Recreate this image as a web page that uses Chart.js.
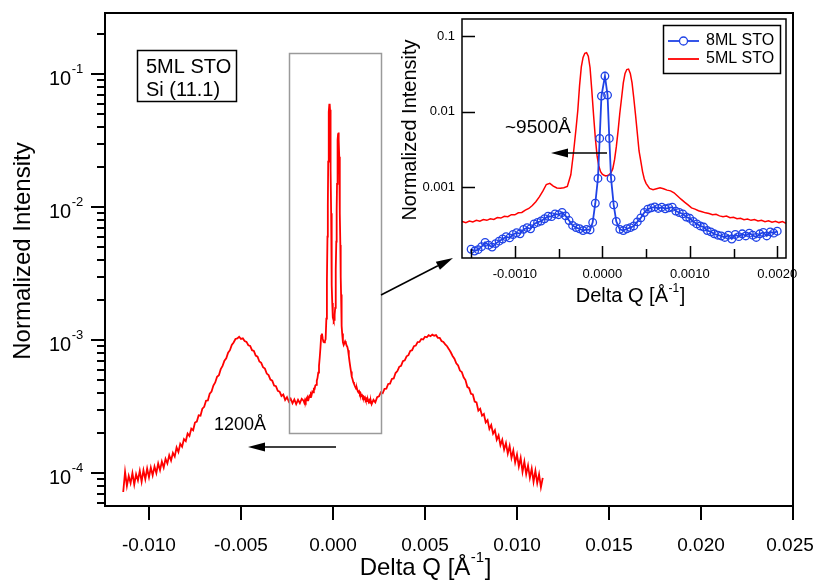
<!DOCTYPE html>
<html>
<head>
<meta charset="utf-8">
<script src="https://cdn.jsdelivr.net/npm/chart.js@4.4.1/dist/chart.umd.min.js"></script>
<style>
  html, body { margin: 0; padding: 0; background: #fff; }
  #wrap { position: relative; width: 815px; height: 580px; }
  #wrap canvas { position: absolute; left: 0; top: 0; }
</style>
</head>
<body>
<div id="wrap">
  <canvas id="main" width="815" height="580"></canvas>
  <canvas id="inset" width="815" height="580"></canvas>
</div>
<script>
// 5ML STO scan, Delta Q [1/A] and normalized intensity
const q5ML = [
  // left wing
  -0.0114, -0.0113, -0.0112, -0.0111, -0.0110, -0.0109, -0.0108, -0.0107, -0.0106, -0.0105,
  -0.0104, -0.0103, -0.0102, -0.0101, -0.0100, -0.0099, -0.0098, -0.0097, -0.0096, -0.0095,
  -0.0094, -0.0093, -0.0092, -0.0091, -0.0090, -0.0089, -0.0088, -0.0087, -0.0086, -0.0085,
  -0.0084, -0.0083, -0.0082, -0.0081, -0.0080, -0.0079, -0.0078, -0.0077, -0.0076, -0.0075,
  -0.0074, -0.0073, -0.0072, -0.0071, -0.0070, -0.0069, -0.0068, -0.0067, -0.0066, -0.0065,
  -0.0064, -0.0063, -0.0062, -0.0061, -0.0060, -0.0059, -0.0058, -0.0057, -0.0056, -0.0055,
  -0.0054, -0.0053, -0.0052, -0.0051, -0.0050, -0.0049, -0.0048, -0.0047, -0.0046, -0.0045,
  -0.0044, -0.0043, -0.0042, -0.0041, -0.0040, -0.0039, -0.0038, -0.0037, -0.0036, -0.0035,
  -0.0034, -0.0033, -0.0032, -0.0031, -0.0030, -0.0029, -0.0028, -0.0027, -0.0026, -0.0025,
  -0.0024, -0.0023, -0.0022, -0.0021, -0.0020, -0.0019, -0.0018, -0.0017,
  // centre (finer sampling)
  -0.00160, -0.00156, -0.00152, -0.00148, -0.00144, -0.00140, -0.00136, -0.00132, -0.00128, -0.00124,
  -0.00120, -0.00116, -0.00112, -0.00108, -0.00104, -0.00100, -0.00096, -0.00092, -0.00088, -0.00084,
  -0.00080, -0.00076, -0.00072, -0.00068, -0.00064, -0.00060, -0.00056, -0.00052, -0.00048, -0.00044,
  -0.00040, -0.00036, -0.00033, -0.00030, -0.00028, -0.00026, -0.00024, -0.00022, -0.00020, -0.00018,
  -0.00016, -0.00014, -0.00012, -0.00010, -0.00008, -0.00006, -0.00004, -0.00002, 0.00000, 0.00002,
  0.00004, 0.00006, 0.00008, 0.00010, 0.00012, 0.00014, 0.00016, 0.00018, 0.00020, 0.00022,
  0.00024, 0.00026, 0.00028, 0.00030, 0.00032, 0.00034, 0.00036, 0.00038, 0.00040, 0.00042,
  0.00044, 0.00046, 0.00048, 0.00050, 0.00054, 0.00058, 0.00062, 0.00066, 0.00070, 0.00074,
  0.00078, 0.00082, 0.00086, 0.00090, 0.00094, 0.00098, 0.00102, 0.00106, 0.00110, 0.00114,
  0.00118, 0.00122, 0.00126, 0.00130, 0.00134, 0.00138, 0.00142, 0.00146, 0.00150, 0.00154,
  0.00158, 0.00162, 0.00166, 0.00170, 0.00174, 0.00178, 0.00182, 0.00186, 0.00190, 0.00194,
  0.00198, 0.00202, 0.00206,
  // right wing
  0.0021, 0.0022, 0.0023, 0.0024, 0.0025, 0.0026, 0.0027, 0.0028, 0.0029, 0.0030,
  0.0031, 0.0032, 0.0033, 0.0034, 0.0035, 0.0036, 0.0037, 0.0038, 0.0039, 0.0040,
  0.0041, 0.0042, 0.0043, 0.0044, 0.0045, 0.0046, 0.0047, 0.0048, 0.0049, 0.0050,
  0.0051, 0.0052, 0.0053, 0.0054, 0.0055, 0.0056, 0.0057, 0.0058, 0.0059, 0.0060,
  0.0061, 0.0062, 0.0063, 0.0064, 0.0065, 0.0066, 0.0067, 0.0068, 0.0069, 0.0070,
  0.0071, 0.0072, 0.0073, 0.0074, 0.0075, 0.0076, 0.0077, 0.0078, 0.0079, 0.0080,
  0.0081, 0.0082, 0.0083, 0.0084, 0.0085, 0.0086, 0.0087, 0.0088, 0.0089, 0.0090,
  0.0091, 0.0092, 0.0093, 0.0094, 0.0095, 0.0096, 0.0097, 0.0098, 0.0099, 0.0100,
  0.0101, 0.0102, 0.0103, 0.0104, 0.0105, 0.0106, 0.0107, 0.0108, 0.0109, 0.0110,
  0.0111, 0.0112, 0.0113, 0.0114,
];
const i5ML = [
  0.72e-4, 1.02e-4, 0.80e-4, 0.95e-4, 0.84e-4, 1.00e-4, 0.82e-4, 0.98e-4, 0.88e-4, 1.04e-4,
  0.86e-4, 1.05e-4, 0.90e-4, 1.08e-4, 0.93e-4, 1.10e-4, 0.96e-4, 1.12e-4, 1.00e-4, 1.18e-4,
  1.05e-4, 1.22e-4, 1.10e-4, 1.28e-4, 1.18e-4, 1.36e-4, 1.24e-4, 1.42e-4, 1.33e-4, 1.56e-4,
  1.44e-4, 1.66e-4, 1.58e-4, 1.80e-4, 1.74e-4, 1.98e-4, 1.90e-4, 2.16e-4, 2.10e-4, 2.40e-4,
  2.44e-4, 2.72e-4, 2.70e-4, 3.05e-4, 3.15e-4, 3.50e-4, 3.52e-4, 3.95e-4, 4.10e-4, 4.55e-4,
  4.80e-4, 5.30e-4, 5.45e-4, 6.05e-4, 6.40e-4, 7.00e-4, 7.30e-4, 8.05e-4, 8.40e-4, 9.20e-4,
  9.60e-4, 10.2e-4, 10.3e-4, 10.6e-4, 10.2e-4, 10.3e-4, 9.85e-4, 9.70e-4, 9.15e-4, 9.05e-4,
  8.40e-4, 8.30e-4, 7.65e-4, 7.50e-4, 6.90e-4, 6.75e-4, 6.25e-4, 6.10e-4, 5.60e-4, 5.45e-4,
  5.05e-4, 4.95e-4, 4.55e-4, 4.50e-4, 4.15e-4, 4.10e-4, 3.80e-4, 3.90e-4, 3.55e-4, 3.72e-4,
  3.45e-4, 3.62e-4, 3.35e-4, 3.58e-4, 3.30e-4, 3.55e-4, 3.35e-4, 3.62e-4,

  3.50e-4, 3.38e-4, 3.55e-4, 3.45e-4, 3.62e-4, 3.52e-4, 3.70e-4, 3.62e-4, 3.80e-4, 3.72e-4,
  3.95e-4, 3.88e-4, 4.10e-4, 4.05e-4, 4.30e-4, 4.28e-4, 4.55e-4, 4.60e-4, 4.95e-4, 5.20e-4,
  5.70e-4, 6.40e-4, 7.40e-4, 8.80e-4, 10.8e-4, 11.2e-4, 10.3e-4, 9.70e-4, 9.60e-4, 9.80e-4,
  10.2e-4, 14.5e-4, 28e-4, 60e-4, 104e-4, 220e-4, 390e-4, 520e-4, 590e-4, 600e-4,
  540e-4, 380e-4, 190e-4, 90e-4, 45e-4, 26e-4, 19e-4, 16e-4, 14.8e-4, 14.3e-4,
  14.0e-4, 14.2e-4, 14.6e-4, 15.5e-4, 17.5e-4, 23e-4, 34e-4, 55e-4, 95e-4, 150e-4,
  240e-4, 320e-4, 360e-4, 365e-4, 320e-4, 240e-4, 150e-4, 90e-4, 52e-4, 30e-4,
  22e-4, 16e-4, 12.8e-4, 11.2e-4, 9.6e-4, 9.2e-4, 9.5e-4, 9.8e-4, 9.5e-4, 9.1e-4,
  8.9e-4, 8.4e-4, 7.6e-4, 6.9e-4, 6.3e-4, 5.8e-4, 5.3e-4, 5.1e-4, 4.85e-4, 4.70e-4,
  4.55e-4, 4.45e-4, 4.30e-4, 4.35e-4, 4.15e-4, 4.05e-4, 4.12e-4, 3.92e-4, 3.98e-4, 3.80e-4,
  3.85e-4, 3.70e-4, 3.76e-4, 3.62e-4, 3.70e-4, 3.55e-4, 3.62e-4, 3.48e-4, 3.56e-4, 3.42e-4,
  3.52e-4, 3.38e-4, 3.48e-4,

  3.30e-4, 3.55e-4, 3.40e-4, 3.72e-4, 3.78e-4, 4.05e-4, 3.98e-4, 4.30e-4, 4.32e-4, 4.68e-4,
  4.70e-4, 5.10e-4, 5.15e-4, 5.65e-4, 5.85e-4, 6.30e-4, 6.40e-4, 6.95e-4, 7.05e-4, 7.55e-4,
  7.70e-4, 8.30e-4, 8.40e-4, 9.00e-4, 9.10e-4, 9.65e-4, 9.70e-4, 10.2e-4, 10.1e-4, 10.6e-4,
  10.5e-4, 10.9e-4, 10.7e-4, 11.0e-4, 10.8e-4, 10.9e-4, 10.4e-4, 10.4e-4, 9.85e-4, 9.70e-4,
  9.30e-4, 9.00e-4, 8.55e-4, 8.10e-4, 7.60e-4, 7.25e-4, 6.70e-4, 6.45e-4, 5.90e-4, 5.75e-4,
  5.25e-4, 5.00e-4, 4.45e-4, 4.35e-4, 3.95e-4, 3.90e-4, 3.45e-4, 3.40e-4, 2.95e-4, 3.05e-4,
  2.70e-4, 2.78e-4, 2.40e-4, 2.50e-4, 2.15e-4, 2.30e-4, 1.98e-4, 2.10e-4, 1.78e-4, 1.92e-4,
  1.62e-4, 1.78e-4, 1.50e-4, 1.68e-4, 1.40e-4, 1.60e-4, 1.30e-4, 1.48e-4, 1.20e-4, 1.38e-4,
  1.12e-4, 1.30e-4, 1.02e-4, 1.22e-4, 0.98e-4, 1.14e-4, 0.92e-4, 1.08e-4, 0.86e-4, 1.04e-4,
  0.84e-4, 0.98e-4, 0.78e-4, 0.92e-4,
];

// 8ML STO scan (inset only)
const q8ML = [
  -0.00150, -0.00146, -0.00142, -0.00138, -0.00134, -0.00130, -0.00126, -0.00122, -0.00118, -0.00114,
  -0.00110, -0.00106, -0.00102, -0.00098, -0.00094, -0.00090, -0.00086, -0.00082, -0.00078, -0.00074,
  -0.00070, -0.00066, -0.00062, -0.00058, -0.00054, -0.00050, -0.00046, -0.00042, -0.00038, -0.00034,
  -0.00030, -0.00026, -0.00022, -0.00018, -0.00014, -0.00011, -0.00008, -0.00005, -0.00003, -0.00001,
  0.00003, 0.00006, 0.00008, 0.00010, 0.00013, 0.00016, 0.00020, 0.00024, 0.00028, 0.00032,
  0.00036, 0.00040, 0.00044, 0.00048, 0.00052, 0.00056, 0.00060, 0.00064, 0.00068, 0.00072,
  0.00076, 0.00080, 0.00084, 0.00088, 0.00092, 0.00096, 0.00100, 0.00104, 0.00108, 0.00112,
  0.00116, 0.00120, 0.00124, 0.00128, 0.00132, 0.00136, 0.00140, 0.00144, 0.00148, 0.00152,
  0.00156, 0.00160, 0.00164, 0.00168, 0.00172, 0.00176, 0.00180, 0.00184, 0.00188, 0.00192,
  0.00196, 0.00200,
];
const i8ML = [
  1.50e-4, 1.42e-4, 1.48e-4, 1.62e-4, 1.85e-4, 1.70e-4, 1.60e-4, 1.78e-4, 1.92e-4, 2.05e-4,
  2.20e-4, 2.12e-4, 2.35e-4, 2.48e-4, 2.40e-4, 2.75e-4, 2.90e-4, 2.80e-4, 3.25e-4, 3.40e-4,
  3.55e-4, 3.80e-4, 4.10e-4, 4.05e-4, 4.40e-4, 4.30e-4, 4.60e-4, 4.15e-4, 3.60e-4, 3.10e-4,
  2.90e-4, 2.80e-4, 2.65e-4, 2.75e-4, 2.70e-4, 3.40e-4, 6.1e-4, 13e-4, 44e-4, 160e-4,
  295e-4, 165e-4, 44e-4, 13e-4, 5.8e-4, 3.5e-4, 2.75e-4, 2.65e-4, 2.80e-4, 2.90e-4,
  3.05e-4, 3.45e-4, 3.90e-4, 4.60e-4, 5.10e-4, 5.30e-4, 5.45e-4, 5.20e-4, 5.40e-4, 5.15e-4,
  5.30e-4, 5.40e-4, 4.80e-4, 4.60e-4, 4.40e-4, 4.00e-4, 3.85e-4, 3.50e-4, 3.25e-4, 3.05e-4,
  2.95e-4, 2.65e-4, 2.55e-4, 2.40e-4, 2.30e-4, 2.25e-4, 2.15e-4, 2.30e-4, 2.05e-4, 2.35e-4,
  2.20e-4, 2.40e-4, 2.25e-4, 2.45e-4, 2.30e-4, 2.15e-4, 2.40e-4, 2.50e-4, 2.25e-4, 2.55e-4,
  2.45e-4, 2.60e-4,
];

// axes
const mainXTicks = [-0.010, -0.005, 0.000, 0.005, 0.010, 0.015, 0.020, 0.025];
const mainXLabels = ['-0.010', '-0.005', '0.000', '0.005', '0.010', '0.015', '0.020', '0.025'];
const mainYDecades = [1e-4, 1e-3, 1e-2, 1e-1];
const mainYExps = ['-4', '-3', '-2', '-1'];
const insetXTicks = [-0.001, 0, 0.001, 0.002];
const insetXLabels = ['-0.0010', '0.0000', '0.0010', '0.0020'];
const insetXMinor = [-0.0015, -0.0005, 0.0005, 0.0015];
const insetYTicks = [0.1, 0.01, 0.001];
const insetYLabels = ['0.1', '0.01', '0.001'];

const RED = '#ff0000';
const BLUE = '#1f42e6';
const FONT = '"Liberation Sans", Arial, Helvetica, sans-serif';

const pts = (xs, ys) => xs.map((x, i) => ({ x, y: ys[i] }));

function arrow(ctx, x1, y1, x2, y2, head = 17, half = 4.5) {
  const a = Math.atan2(y2 - y1, x2 - x1);
  const bx = x2 - head * Math.cos(a), by = y2 - head * Math.sin(a);
  ctx.beginPath(); ctx.moveTo(x1, y1); ctx.lineTo(bx, by); ctx.stroke();
  ctx.beginPath();
  ctx.moveTo(x2, y2);
  ctx.lineTo(bx + half * Math.sin(a), by - half * Math.cos(a));
  ctx.lineTo(bx - half * Math.sin(a), by + half * Math.cos(a));
  ctx.closePath(); ctx.fill();
}

// base text + raised superscript + tail
function supText(ctx, x, y, base, sup, tail, size, supSize, raise, align) {
  ctx.font = `${size}px ${FONT}`;
  const w1 = ctx.measureText(base).width;
  const w3 = ctx.measureText(tail).width;
  ctx.font = `${supSize}px ${FONT}`;
  const w2 = ctx.measureText(sup).width;
  const x0 = align === 'center' ? x - (w1 + w2 + w3) / 2 : x;
  ctx.textAlign = 'left';
  ctx.textBaseline = 'alphabetic';
  ctx.font = `${size}px ${FONT}`; ctx.fillText(base, x0, y);
  ctx.font = `${supSize}px ${FONT}`; ctx.fillText(sup, x0 + w1 + 0.5, y - raise);
  ctx.font = `${size}px ${FONT}`; ctx.fillText(tail, x0 + w1 + w2 + 1, y);
}

function vText(ctx, text, cx, cy, size) {
  ctx.save();
  ctx.translate(cx, cy);
  ctx.rotate(-Math.PI / 2);
  ctx.font = `${size}px ${FONT}`;
  ctx.textAlign = 'center';
  ctx.textBaseline = 'middle';
  ctx.fillText(text, 0, 0);
  ctx.restore();
}

const mainDecor = {
  id: 'mainDecor',
  afterDraw(chart) {
    const { ctx, chartArea: a, scales: { x, y } } = chart;
    ctx.save();
    ctx.strokeStyle = '#000';
    ctx.fillStyle = '#000';
    ctx.lineWidth = 2;
    ctx.strokeRect(a.left, a.top, a.right - a.left, a.bottom - a.top);

    // ticks (outside)
    ctx.beginPath();
    mainXTicks.forEach(v => {
      const px = Math.round(x.getPixelForValue(v));
      ctx.moveTo(px, a.bottom); ctx.lineTo(px, a.bottom + 14);
    });
    for (let e = -5; e <= 0; e++) {
      for (let m = 1; m <= 9; m++) {
        const v = m * Math.pow(10, e);
        if (v < y.min || v > y.max) continue;
        const py = Math.round(y.getPixelForValue(v));
        ctx.moveTo(a.left - (m === 1 ? 14 : 8), py); ctx.lineTo(a.left, py);
      }
    }
    ctx.stroke();

    // tick labels
    ctx.font = `19px ${FONT}`;
    ctx.textAlign = 'center';
    ctx.textBaseline = 'alphabetic';
    mainXTicks.forEach((v, i) => ctx.fillText(mainXLabels[i], x.getPixelForValue(v) - (i === mainXTicks.length - 1 ? 3 : 0), a.bottom + 45));
    mainYDecades.forEach((v, i) => {
      const py = y.getPixelForValue(v);
      supText(ctx, 49, py + 11, '10', mainYExps[i], '', 20, 13, 12, 'left');
    });

    // axis titles
    vText(ctx, 'Normalized Intensity', 23, 251, 24);
    supText(ctx, 425, 575, 'Delta Q [Å', '-1', ']', 24, 15, 13, 'center');

    // sample label box
    ctx.lineWidth = 1.5;
    ctx.strokeRect(137.5, 50.5, 99, 51);
    ctx.font = `20px ${FONT}`;
    ctx.textAlign = 'left';
    ctx.fillText('5ML STO', 146, 73);
    ctx.fillText('Si (11.1)', 146, 96);

    // zoom window and pointer to the inset
    ctx.strokeStyle = '#9a9a9a';
    ctx.strokeRect(289.5, 53.5, 92, 380);
    ctx.strokeStyle = '#000';
    arrow(ctx, 381, 295, 453, 258);

    // 1200 A marker
    ctx.font = `18px ${FONT}`;
    ctx.fillText('1200Å', 214, 430);
    arrow(ctx, 336, 447, 248, 447);
    ctx.restore();
  },
};

const insetDecor = {
  id: 'insetDecor',
  afterDraw(chart) {
    const { ctx, chartArea: a, scales: { x, y } } = chart;
    ctx.save();
    ctx.strokeStyle = '#000';
    ctx.fillStyle = '#000';
    ctx.lineWidth = 1.5;
    ctx.strokeRect(a.left, a.top, a.right - a.left, a.bottom - a.top);

    // ticks (inside)
    ctx.beginPath();
    insetXTicks.forEach(v => {
      const px = Math.round(x.getPixelForValue(v)) + 0.5;
      ctx.moveTo(px, a.bottom); ctx.lineTo(px, a.bottom - 12);
    });
    insetXMinor.forEach(v => {
      const px = Math.round(x.getPixelForValue(v)) + 0.5;
      ctx.moveTo(px, a.bottom); ctx.lineTo(px, a.bottom - 9);
    });
    insetYTicks.forEach(v => {
      const py = Math.round(y.getPixelForValue(v)) + 0.5;
      ctx.moveTo(a.left, py); ctx.lineTo(a.left + 13, py);
    });
    ctx.stroke();

    ctx.font = `13px ${FONT}`;
    ctx.textAlign = 'center';
    ctx.textBaseline = 'middle';
    insetXTicks.forEach((v, i) => ctx.fillText(insetXLabels[i], x.getPixelForValue(v), a.bottom + 16));
    ctx.textAlign = 'right';
    insetYTicks.forEach((v, i) => ctx.fillText(insetYLabels[i], a.left - 7, y.getPixelForValue(v)));

    vText(ctx, 'Normalized Intensity', 410, 130, 20);
    supText(ctx, 630, 302, 'Delta Q [Å', '-1', ']', 20, 12, 10, 'center');

    // legend
    ctx.fillStyle = '#fff';
    ctx.fillRect(663, 25, 117, 48);
    ctx.strokeRect(663.5, 25.5, 117, 48);
    ctx.lineWidth = 1.8;
    ctx.strokeStyle = BLUE;
    ctx.beginPath(); ctx.moveTo(668, 41); ctx.lineTo(699, 41); ctx.stroke();
    ctx.lineWidth = 1.3;
    ctx.fillStyle = '#fff';
    ctx.beginPath(); ctx.arc(683.5, 41, 4, 0, Math.PI * 2); ctx.fill(); ctx.stroke();
    ctx.lineWidth = 1.8;
    ctx.strokeStyle = RED;
    ctx.beginPath(); ctx.moveTo(668, 59); ctx.lineTo(699, 59); ctx.stroke();
    ctx.fillStyle = '#000';
    ctx.font = `16px ${FONT}`;
    ctx.textAlign = 'left';
    ctx.textBaseline = 'middle';
    ctx.fillText('8ML STO', 706, 41);
    ctx.fillText('5ML STO', 706, 59);

    // ~9500 A marker
    ctx.strokeStyle = '#000';
    ctx.lineWidth = 1.5;
    ctx.textBaseline = 'alphabetic';
    ctx.font = `19px ${FONT}`;
    ctx.fillText('~9500Å', 505, 133);
    arrow(ctx, 607, 153, 551, 153);
    ctx.restore();
  },
};

new Chart(document.getElementById('main'), {
  type: 'line',
  data: {
    datasets: [{
      label: '5ML STO',
      data: pts(q5ML, i5ML),
      borderColor: RED,
      borderWidth: 1.8,
      pointRadius: 0,
      tension: 0,
    }],
  },
  options: {
    responsive: false,
    animation: false,
    events: [],
    layout: { padding: { left: 105, top: 13, right: 22, bottom: 74 } },
    plugins: { legend: { display: false }, tooltip: { enabled: false } },
    scales: {
      x: { type: 'linear', display: false, bounds: 'data', min: -0.01239, max: 0.025 },
      y: { type: 'logarithmic', display: false, bounds: 'data', min: 5.65e-5, max: 0.289 },
    },
  },
  plugins: [mainDecor],
});

new Chart(document.getElementById('inset'), {
  type: 'line',
  data: {
    datasets: [
      {
        label: '8ML STO',
        data: pts(q8ML, i8ML),
        borderColor: BLUE,
        borderWidth: 1.8,
        pointRadius: 3.8,
        pointStyle: 'circle',
        pointBorderColor: BLUE,
        pointBackgroundColor: 'rgba(255,255,255,0)',
        pointBorderWidth: 1.3,
        tension: 0,
      },
      {
        label: '5ML STO',
        data: pts(q5ML, i5ML),
        borderColor: RED,
        borderWidth: 1.5,
        pointRadius: 0,
        tension: 0,
      },
    ],
  },
  options: {
    responsive: false,
    animation: false,
    events: [],
    layout: { padding: { left: 462, top: 19, right: 29, bottom: 322 } },
    plugins: { legend: { display: false }, tooltip: { enabled: false } },
    scales: {
      x: { type: 'linear', display: false, bounds: 'data', min: -0.001604, max: 0.0021 },
      y: { type: 'logarithmic', display: false, bounds: 'data', min: 1.148e-4, max: 0.168 },
    },
  },
  plugins: [insetDecor],
});
</script>
</body>
</html>
